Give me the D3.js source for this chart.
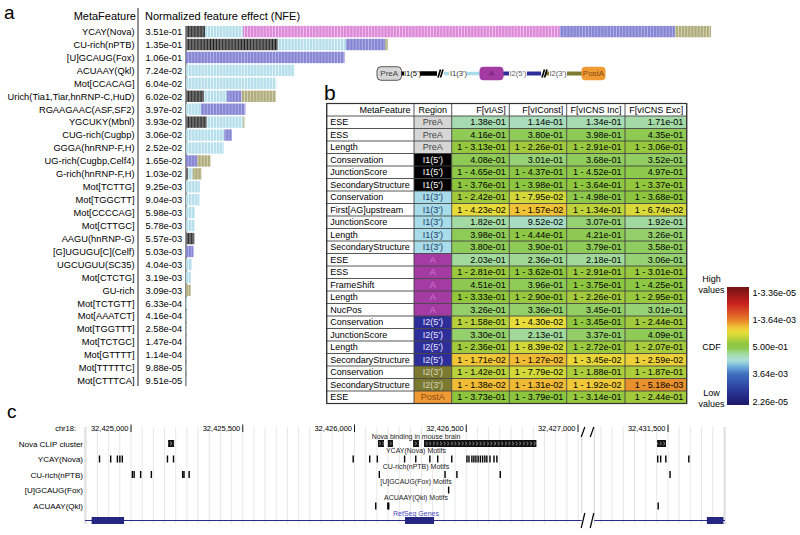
<!DOCTYPE html>
<html><head><meta charset="utf-8">
<script src="https://cdn.jsdelivr.net/npm/d3@7"></script>
<style>
body{margin:0;background:#fff;}
svg{font-family:"Liberation Sans",Arial,Helvetica,sans-serif;}
</style></head><body>
<svg id="fig" width="800" height="535"></svg>
<script>
// ================= DATA =================
// Panel a
const features = ["YCAY(Nova)","CU-rich(nPTB)","[U]GCAUG(Fox)","ACUAAY(Qkl)","Mot[CCACAG]","Urich(Tia1,Tiar,hnRNP-C,HuD)","RGAAGAAC(ASF,SF2)","YGCUKY(Mbnl)","CUG-rich(Cugbp)","GGGA(hnRNP-F,H)","UG-rich(Cugbp,Celf4)","G-rich(hnRNP-F,H)","Mot[TCTTG]","Mot[TGGCTT]","Mot[CCCCAG]","Mot[CTTGC]","AAGU(hnRNP-G)","[G]UGUGU[C](Celf)","UGCUGUU(SC35)","Mot[CTCTG]","GU-rich","Mot[TCTGTT]","Mot[AAATCT]","Mot[TGGTTT]","Mot[TCTGC]","Mot[GTTTT]","Mot[TTTTTC]","Mot[CTTTCA]"];
const nfe = [3.51e-01,1.35e-01,1.06e-01,7.24e-02,6.04e-02,6.02e-02,3.97e-02,3.93e-02,3.06e-02,2.52e-02,1.65e-02,1.03e-02,9.25e-03,9.04e-03,5.98e-03,5.78e-03,5.57e-03,5.03e-03,4.04e-03,3.19e-03,3.09e-03,6.33e-04,4.16e-04,2.58e-04,1.47e-04,1.14e-04,9.88e-05,9.51e-05];
const segRegions = ["I1(5')","I1(3')","A","I2(5')","I2(3')"];
const segI15 = [0.0127,0.0614,0,0,0,0.012,0,0.0139,0,0,0,0.0015,0,0,0,0,0.00557,0,0,0,0,0,0,0,0,0,0,0];
const segI13 = [0.0254,0.0455,0,0.0724,0.0604,0.0152,0.010,0.0244,0.0256,0.0252,0,0.003,0.00925,0.00904,0.00598,0.00578,0,0,0.00404,0.00319,0,6.33e-4,4.16e-4,2.58e-4,1.47e-4,1.14e-4,9.88e-5,9.51e-5];
const segA   = [0.2118,0,0,0,0,0,0,0,0,0,0,0,0,0,0,0,0,0,0,0,0,0,0,0,0,0,0,0];
const segI25 = [0.077,0.0263,0.106,0,0,0.010,0.0297,0,0.005,0,0.0075,0,0,0,0,0,0,0.00503,0,0,0,0,0,0,0,0,0,0];
const segI23 = [0.0241,0.0018,0,0,0,0.023,0,0.001,0,0,0.009,0.0058,0,0,0,0,0,0,0,0,0.00309,0,0,0,0,0,0,0];

// Panel b
const tableHeader = ["MetaFeature","Region","F[vIAS]","F[vIConst]","F[vICNS Inc]","F[vICNS Exc]"];
const metaFeatures = ["ESE","ESS","Length","Conservation","JunctionScore","SecondaryStructure","Conservation","First[AG]upstream","JunctionScore","Length","SecondaryStructure","ESE","ESS","FrameShift","Length","NucPos","Conservation","JunctionScore","Length","SecondaryStructure","Conservation","SecondaryStructure","ESE"];
const regions = ["PreA","PreA","PreA","I1(5')","I1(5')","I1(5')","I1(3')","I1(3')","I1(3')","I1(3')","I1(3')","A","A","A","A","A","I2(5')","I2(5')","I2(5')","I2(5')","I2(3')","I2(3')","PostA"];
const fvIAS = ["1.38e-01","4.16e-01","1 - 3.13e-01","4.08e-01","1 - 4.65e-01","1 - 3.76e-01","1 - 2.42e-01","1 - 4.23e-02","1.82e-01","3.98e-01","3.80e-01","2.03e-01","1 - 2.81e-01","4.51e-01","1 - 3.33e-01","3.26e-01","1 - 1.58e-01","3.30e-01","1 - 2.36e-01","1 - 1.71e-02","1 - 1.42e-01","1 - 1.38e-02","1 - 3.73e-01"];
const fvIConst = ["1.14e-01","3.80e-01","1 - 2.26e-01","3.01e-01","1 - 4.37e-01","1 - 3.98e-01","1 - 7.95e-02","1 - 1.57e-02","9.52e-02","1 - 4.44e-01","3.90e-01","2.36e-01","1 - 3.62e-01","3.96e-01","1 - 2.90e-01","3.36e-01","1 - 4.30e-02","2.13e-01","1 - 8.39e-02","1 - 1.27e-02","1 - 7.79e-02","1 - 1.31e-02","1 - 3.79e-01"];
const fvICNSInc = ["1.34e-01","3.98e-01","1 - 2.91e-01","3.68e-01","1 - 4.52e-01","1 - 3.64e-01","1 - 4.98e-01","1 - 1.34e-01","3.07e-01","4.21e-01","3.79e-01","2.18e-01","1 - 2.91e-01","1 - 3.75e-01","1 - 2.26e-01","3.45e-01","1 - 3.45e-01","3.37e-01","1 - 2.72e-01","1 - 3.45e-02","1 - 1.88e-01","1 - 1.92e-02","1 - 3.14e-01"];
const fvICNSExc = ["1.71e-01","4.35e-01","1 - 3.06e-01","3.52e-01","4.97e-01","1 - 3.37e-01","1 - 3.68e-01","1 - 6.74e-02","1.92e-01","3.26e-01","3.58e-01","3.06e-01","1 - 3.01e-01","1 - 4.25e-01","1 - 2.95e-01","3.01e-01","1 - 2.44e-01","4.09e-01","1 - 2.07e-01","1 - 2.59e-02","1 - 1.87e-01","1 - 5.18e-03","1 - 2.44e-01"];
const cbarLabels = ["1-3.36e-05","1-3.64e-03","5.00e-01","3.64e-03","2.26e-05"];
const cbarValues = [1-3.36e-05, 1-3.64e-03, 0.5, 3.64e-03, 2.26e-05];

// Panel c (genomic coordinates, chr18)
const rulerTicksLeft = [32425000,32425500,32426000,32426500,32427000];
const rulerTicksRight = [32431500];
const trackNames = ["Nova CLIP cluster","YCAY(Nova)","CU-rich(nPTB)","[U]GCAUG(Fox)","ACUAAY(Qkl)"];
const trackTitles = ["Nova binding in mouse brain","YCAY(Nova) Motifs","CU-rich(nPTB) Motifs","[U]GCAUG(Fox) Motifs","ACUAAY(Qkl) Motifs","RefSeq Genes"];
const novaClip = [[32425166,32425193],[32426105,32426132],[32426149,32426172],[32426262,32426289],[32426311,32426814],[32431451,32431491]];
const ycayMotifs = [32424856,32424906,32424936,32424947,32424958,32425160,32425187,32425991,32426065,32426099,32426221,32426271,32426334,32426369,32426432,32426500,32426509,32426522,32426531,32426540,32426550,32426560,32426570,32426580,32426589,32426603,32426621,32426634,32431451,32431464,32431487,32431590];
const cuRichMotifs = [32425003,32425011,32425040,32425088,32425228,32425234,32425257,32426108,32426402,32426455,32426649,32431506];
const foxMotifs = [32426418];
const qklMotifs = [32426092,32426146,32426150,32431453];
const exons = [[32424824,32424969],[32426226,32426356],[32431674,32431748]];
const leftWindow = [32424794,32427017];
const rightWindow = [32431170,32431755];

// ================= DRAW =================
const svg = d3.select("#fig");
const defs = svg.append("defs");

const segBase = {"I1(5')":"#6c6c6c","I1(3')":"#b4deea","A":"#dc8ad8","I2(5')":"#8585d2","I2(3')":"#b0ac7e"};
const segStripe = {"I1(5')":"#1c1c1c","I1(3')":"#e8f6fa","A":"#f2c4ef","I2(5')":"#b4b4ea","I2(3')":"#d8d6b8"};
segRegions.forEach((r,i)=>{
  const p = defs.append("pattern").attr("id","pat"+i).attr("patternUnits","userSpaceOnUse")
    .attr("width",3.1).attr("height",20);
  p.append("rect").attr("width",3.1).attr("height",20).attr("fill",segBase[r]);
  p.append("rect").attr("x",2.2).attr("width",0.9).attr("height",20).attr("fill",segStripe[r]);
});

// ---------- Panel a ----------
svg.append("text").attr("x",4).attr("y",19).attr("font-size",19).text("a");
const ya = d3.scaleBand().domain(d3.range(features.length)).range([25.9, 25.9+12.88*features.length]).paddingInner(0.12);
const xa = d3.scaleLinear().domain([0, nfe[0]]).range([186, 711]);

svg.append("text").attr("x",136).attr("y",19.5).attr("text-anchor","end").attr("font-size",11).text("MetaFeature");
svg.append("text").attr("x",145).attr("y",19.5).attr("font-size",11).text("Normalized feature effect (NFE)");
svg.append("line").attr("x1",138).attr("x2",138).attr("y1",8).attr("y2",386).attr("stroke","#222").attr("stroke-width",1);
svg.append("line").attr("x1",186).attr("x2",186).attr("y1",26).attr("y2",386).attr("stroke","#222").attr("stroke-width",1);

const rowsA = svg.append("g");
rowsA.selectAll("text.lab").data(features).join("text").attr("class","lab")
  .attr("x",134.5).attr("y",(d,i)=>ya(i)+ya.bandwidth()/2+3.3).attr("text-anchor","end")
  .attr("font-size",9.3).text(d=>d);
rowsA.selectAll("text.val").data(nfe).join("text").attr("class","val")
  .attr("x",145.5).attr("y",(d,i)=>ya(i)+ya.bandwidth()/2+3.3)
  .attr("font-size",9.3).text(d=>d3.format(".2e")(d).replace(/e([+-])(\d)$/,"e$10$2"));

const segTable = features.map((f,i)=>({i, "I1(5')":segI15[i], "I1(3')":segI13[i], "A":segA[i], "I2(5')":segI25[i], "I2(3')":segI23[i]}));
const stacked = d3.stack().keys(segRegions)(segTable);
stacked.forEach((layer,k)=>{
  svg.append("g").selectAll("rect").data(layer.filter(d=>d[1]-d[0]>0)).join("rect")
    .attr("x",d=>xa(d[0])).attr("width",d=>Math.max(0.6,xa(d[1])-xa(d[0])))
    .attr("y",d=>ya(d.data.i)).attr("height",ya.bandwidth())
    .attr("fill",`url(#pat${k})`);
});

// ---------- gene structure diagram ----------
const regFill = {"PreA":"#d6d6d6","I1(5')":"#000000","I1(3')":"#a8dcea","A":"#a33ba3","I2(5')":"#2e2e9a","I2(3')":"#7c7a30","PostA":"#f09a34"};
const regText = {"PreA":"#444","I1(5')":"#fff","I1(3')":"#1e3c66","A":"#d27fd2","I2(5')":"#e8e8ff","I2(3')":"#d6d6c0","PostA":"#8a4c12"};
const gy = 73.5;
const gd = svg.append("g");
const lineSeg = (x1,x2,c,w)=>gd.append("line").attr("x1",x1).attr("x2",x2).attr("y1",gy).attr("y2",gy).attr("stroke",c).attr("stroke-width",w);
lineSeg(401,404,"#000",4); lineSeg(420,437,"#000",4.5);
lineSeg(444,449,"#a8dcea",3.5); lineSeg(467,480,"#a8dcea",3.5);
lineSeg(503,509,"#2e2e9a",4); lineSeg(527,541,"#2e2e9a",4);
lineSeg(546,549,"#7c7a30",4); lineSeg(567,582,"#7c7a30",4);
[[437,443],[541,547]].forEach(([a,b])=>{
  gd.append("line").attr("x1",a+1).attr("x2",a+3.5).attr("y1",gy+4).attr("y2",gy-4).attr("stroke","#000").attr("stroke-width",1.6);
  gd.append("line").attr("x1",a+3.5).attr("x2",a+6).attr("y1",gy+4).attr("y2",gy-4).attr("stroke","#000").attr("stroke-width",1.6);
});
const boxes = [["PreA",377,401.5],["A",479.5,503.5],["PostA",581.5,605.5]];
boxes.forEach(([r,x1,x2])=>{
  gd.append("rect").attr("x",x1).attr("y",gy-6.8).attr("width",x2-x1).attr("height",13.6).attr("rx",4)
    .attr("fill",regFill[r]).attr("stroke",r==="PreA"?"#333":"none").attr("stroke-width",0.8);
  gd.append("text").attr("x",(x1+x2)/2).attr("y",gy+2.8).attr("text-anchor","middle").attr("font-size",8)
    .attr("fill",r==="PreA"?"#444":r==="A"?"#6a1a6a":"#8a4c12").text(r);
});
[["I1(5')",404,"#000"],["I1(3')",450,"#333"],["I2(5')",509.5,"#666"],["I2(3')",549.5,"#555"]].forEach(([t,x,c])=>{
  gd.append("text").attr("x",x).attr("y",gy+2.8).attr("font-size",7.6).attr("fill",c).text(t);
});

// ---------- Panel b: table ----------
svg.append("text").attr("x",324).attr("y",100).attr("font-size",21).text("b");
const colEdges = [326.7,414,451.7,509.3,566.7,625,686.7];
const yb = d3.scaleBand().domain(d3.range(metaFeatures.length+1)).range([103.5,403.5]);
const logit = p=>Math.log(p/(1-p));
const cmapDomain = [-11,-8.5,-5.6,-4,-2.8,-2,-1.2,-0.5,0.5,1.2,2.0,3.0,4.0,4.6,5.3,6.5,8.5,11];
const cmapRange = ["#1e1a6e","#2b3a9a","#3f70c0","#72b2dc","#ace0dc","#a8dcb8","#a0d896","#8ecb58","#8cc63e","#a2ca3c","#c4d43a","#e6de3a","#f0c838","#f0b030","#e88e2c","#e06028","#c8201c","#7a1414"];
const cmap = d3.scaleLinear().domain(cmapDomain).range(cmapRange).clamp(true);
const parseP = s=> s.startsWith("1 - ") ? 1 - (+s.slice(4)) : +s;
const cols = [fvIAS,fvIConst,fvICNSInc,fvICNSExc];
const tb = svg.append("g");
const rowH = yb.bandwidth();
tableHeader.forEach((h,c)=>{
  const x1=colEdges[c], x2=colEdges[c+1];
  const anchor = c===1?"middle":"end";
  const tx = c===1?(x1+x2)/2:x2-3.5;
  tb.append("text").attr("x",tx).attr("y",yb(0)+rowH/2+3.2).attr("text-anchor",anchor).attr("font-size",9).text(h);
});
metaFeatures.forEach((m,i)=>{
  const y = yb(i+1);
  tb.append("text").attr("x",colEdges[0]+3.5).attr("y",y+rowH/2+3.2).attr("font-size",9).text(m);
  const r = regions[i];
  tb.append("rect").attr("x",colEdges[1]).attr("y",y).attr("width",colEdges[2]-colEdges[1]).attr("height",rowH).attr("fill",regFill[r]);
  tb.append("text").attr("x",(colEdges[1]+colEdges[2])/2).attr("y",y+rowH/2+3.2).attr("text-anchor","middle")
    .attr("font-size",9).attr("fill",regText[r]).text(r);
  cols.forEach((col,c)=>{
    const s = col[i];
    tb.append("rect").attr("x",colEdges[c+2]).attr("y",y).attr("width",colEdges[c+3]-colEdges[c+2]).attr("height",rowH)
      .attr("fill",cmap(logit(parseP(s))));
    tb.append("text").attr("x",colEdges[c+3]-3.5).attr("y",y+rowH/2+3.2).attr("text-anchor","end").attr("font-size",9).text(s);
  });
});
d3.range(metaFeatures.length+2).forEach(k=>{
  const y = 103.5 + k*rowH;
  tb.append("line").attr("x1",colEdges[0]).attr("x2",colEdges[6]).attr("y1",y).attr("y2",y).attr("stroke","#444").attr("stroke-width",0.9);
});
colEdges.forEach(x=>{
  tb.append("line").attr("x1",x).attr("x2",x).attr("y1",103.5).attr("y2",403.5).attr("stroke","#444").attr("stroke-width",0.9);
});
tb.append("rect").attr("x",colEdges[0]).attr("y",103.5).attr("width",colEdges[6]-colEdges[0]).attr("height",300)
  .attr("fill","none").attr("stroke","#333").attr("stroke-width",1.2);

// ---------- color bar ----------
const cbY = d3.scaleLinear().domain(cbarValues.map(logit)).range([293,320,347,374,402]);
const grad = defs.append("linearGradient").attr("id","cbar").attr("x1",0).attr("x2",0).attr("y1",0).attr("y2",1);
d3.range(0,1.0001,1/60).forEach(t=>{
  const y = 287 + t*118;
  grad.append("stop").attr("offset",t).attr("stop-color",cmap(cbY.invert(y)));
});
svg.append("rect").attr("x",727).attr("y",287).attr("width",22).attr("height",118).attr("fill","url(#cbar)");
cbarLabels.forEach((l,i)=>{
  svg.append("text").attr("x",752.5).attr("y",cbY(logit(cbarValues[i]))+3.2).attr("font-size",9).text(l);
});
[["High",282],["values",292.5],["CDF",350],["Low",396],["values",406.5]].forEach(([t,y])=>{
  svg.append("text").attr("x",711.5).attr("y",y).attr("text-anchor","middle").attr("font-size",9).text(t);
});

// ---------- Panel c ----------
svg.append("text").attr("x",7).attr("y",418).attr("font-size",19).text("c");
const kpx = 0.2235;
const xL = d3.scaleLinear().domain([32425000,32427000]).range([131,578]);
const xR = d3.scaleLinear().domain([32431500,32432000]).range([668,668+500*kpx]);
const gx = p => p<=leftWindow[1]+5 ? xL(p) : xR(p);
const pc = svg.append("g");
const topY = 424, botY = 524;
d3.range(32424800, leftWindow[1], 50).forEach(p=>{
  pc.append("line").attr("x1",xL(p)).attr("x2",xL(p)).attr("y1",topY+3).attr("y2",botY).attr("stroke","#dcdcdc").attr("stroke-width",0.7);
});
d3.range(32431200, rightWindow[1], 50).forEach(p=>{
  pc.append("line").attr("x1",xR(p)).attr("x2",xR(p)).attr("y1",topY+3).attr("y2",botY).attr("stroke","#dcdcdc").attr("stroke-width",0.7);
});
[xL(leftWindow[0]),xL(leftWindow[1]),xR(rightWindow[0]),xR(rightWindow[1])].forEach(x=>{
  pc.append("line").attr("x1",x).attr("x2",x).attr("y1",topY+3).attr("y2",botY).attr("stroke","#bbb").attr("stroke-width",0.7);
});
pc.append("text").attr("x",76).attr("y",431).attr("text-anchor","end").attr("font-size",7.5).text("chr18:");
const fmt = d3.format(",");
const allTicks = rulerTicksLeft.concat(rulerTicksRight);
allTicks.forEach(p=>{
  const x = gx(p);
  pc.append("text").attr("x",x-2.5).attr("y",431).attr("text-anchor","end").attr("font-size",7.5).text(fmt(p));
  pc.append("line").attr("x1",x).attr("x2",x).attr("y1",424.5).attr("y2",432).attr("stroke","#000").attr("stroke-width",0.9);
});
const breakX = (xL(leftWindow[1])+xR(rightWindow[0]))/2;
[[427,437],[513,528]].forEach(([y1,y2])=>{
  [-5,4].forEach(dx=>{
    pc.append("rect").attr("x",breakX+dx-2).attr("y",y1).attr("width",4).attr("height",y2-y1).attr("fill","#fff");
    pc.append("line").attr("x1",breakX+dx-1.8).attr("x2",breakX+dx+1.8).attr("y1",y2).attr("y2",y1).attr("stroke","#000").attr("stroke-width",1.2);
  });
});
const trackY = [443.5,459,474.5,490,506];
trackNames.forEach((t,i)=>{
  pc.append("text").attr("x",83).attr("y",trackY[i]+3).attr("text-anchor","end").attr("font-size",8).text(t);
});
const titleY = [439,453,468.5,484,499.5,515.5];
trackTitles.forEach((t,i)=>{
  pc.append("text").attr("x",416).attr("y",titleY[i]).attr("text-anchor","middle").attr("font-size",7)
    .attr("fill",i===5?"#4848b8":"#222").text(t);
});
const chev = defs.append("pattern").attr("id","chev").attr("patternUnits","userSpaceOnUse").attr("width",3.6).attr("height",8).attr("y",440);
chev.append("rect").attr("width",3.6).attr("height",8).attr("fill","#111");
chev.append("path").attr("d","M1,1.8 L2.6,3.5 L1,5.2").attr("fill","none").attr("stroke","#fff").attr("stroke-width",0.6);
novaClip.forEach(([a,b])=>{
  pc.append("rect").attr("x",gx(a)).attr("y",440).attr("width",gx(b)-gx(a)).attr("height",7).attr("fill","url(#chev)");
});
const motifRows = [[ycayMotifs,trackY[1]],[cuRichMotifs,trackY[2]],[foxMotifs,trackY[3]],[qklMotifs,trackY[4]]];
motifRows.forEach(([arr,yc])=>{
  pc.selectAll(null).data(arr).join("rect").attr("x",d=>gx(d)).attr("y",yc-3.5).attr("width",1.4).attr("height",7).attr("fill","#000");
});
pc.append("line").attr("x1",xL(leftWindow[0])).attr("x2",xL(leftWindow[1])).attr("y1",520.5).attr("y2",520.5).attr("stroke","#2a2a8a").attr("stroke-width",1.2);
pc.append("line").attr("x1",xR(rightWindow[0])).attr("x2",xR(rightWindow[1])).attr("y1",520.5).attr("y2",520.5).attr("stroke","#2a2a8a").attr("stroke-width",1.2);
exons.forEach(([a,b])=>{
  pc.append("rect").attr("x",gx(a)).attr("y",517).attr("width",gx(b)-gx(a)).attr("height",7).attr("fill","#262683");
});
</script>
</body></html>
